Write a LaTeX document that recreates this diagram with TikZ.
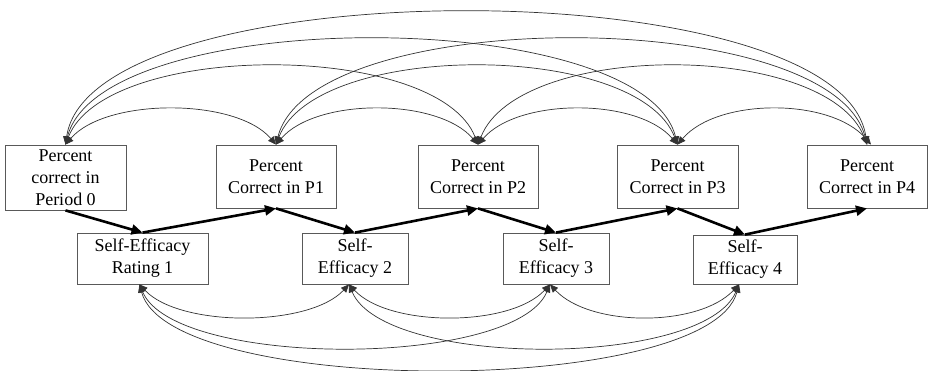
\documentclass[tikz,border=0pt]{standalone}
\usepackage{fontspec}
\setmainfont{Liberation Serif}
\usetikzlibrary{arrows.meta}
\begin{document}
\begin{tikzpicture}[x=1pt,y=-1pt,
 box/.style={draw=black!65, line width=0.8pt, align=center, inner sep=0pt, font=\fontsize{18}{22}\selectfont},
 pbox/.style={box, minimum width=120pt, minimum height=63pt},
 sbox/.style={box, minimum width=106pt, minimum height=51pt},
 effect/.style={line width=2.6pt, -{Triangle[length=11pt,width=10pt]}},
 cov/.style={draw=black!80, line width=0.7pt, {Triangle[length=8pt,width=7pt]}-{Triangle[length=8pt,width=7pt]}}]
\useasboundingbox (0,0) rectangle (928,371);
% top row
\node[box, minimum width=121pt, minimum height=65pt] (p0) at (65.5,177.5) {Percent\\correct in\\Period 0};
\node[pbox] (p1) at (276,176.5) {Percent\\Correct in P1};
\node[pbox] (p2) at (478,176.5) {Percent\\Correct in P2};
\node[pbox, minimum width=121pt] (p3) at (677.5,176.5) {Percent\\Correct in P3};
\node[pbox] (p4) at (867,176.5) {Percent\\Correct in P4};
% bottom row
\node[sbox, minimum width=131pt] (s1) at (142.5,258.5) {Self-Efficacy\\Rating 1};
\node[sbox] (s2) at (355,258.5) {Self-\\Efficacy 2};
\node[sbox] (s3) at (556,258.5) {Self-\\Efficacy 3};
\node[sbox, minimum width=104pt, minimum height=49pt] (s4) at (745,259.5) {Self-\\Efficacy 4};
% thick paths
\draw[effect] (p0.south) -- (s1.north);
\draw[effect] (s1.north) -- (p1.south);
\draw[effect] (p1.south) -- (s2.north);
\draw[effect] (s2.north) -- (p2.south);
\draw[effect] (p2.south) -- (s3.north);
\draw[effect] (s3.north) -- (p3.south);
\draw[effect] (p3.south) -- (s4.north);
\draw[effect] (s4.north) -- (p4.south);
% top covariances
\draw[cov] (p0.north) .. controls +(40,-47) and +(-40,-47) .. (p1.north);
\draw[cov] (p1.north) .. controls +(40,-47) and +(-40,-47) .. (p2.north);
\draw[cov] (p2.north) .. controls +(40,-47) and +(-40,-47) .. (p3.north);
\draw[cov] (p3.north) .. controls +(40,-47) and +(-40,-47) .. ([xshift=4pt]p4.north);
\draw[cov] (p0.north) .. controls +(40,-104) and +(-40,-104) .. (p2.north);
\draw[cov] (p1.north) .. controls +(40,-104) and +(-40,-104) .. (p3.north);
\draw[cov] (p2.north) .. controls +(40,-104) and +(-40,-104) .. (p4.north);
\draw[cov] (p0.north) .. controls +(35,-140) and +(-35,-140) .. (p3.north);
\draw[cov] (p1.north) .. controls +(35,-140) and +(-35,-140) .. (p4.north);
\draw[cov] (p0.north) .. controls +(25,-176) and +(-25,-176) .. (p4.north);
% bottom covariances
\draw[cov] ([xshift=-3pt]s1.south) .. controls +(40,43) and +(-40,43) .. ([xshift=-6pt]s2.south);
\draw[cov] ([xshift=-6pt]s2.south) .. controls +(40,43) and +(-40,43) .. ([xshift=-6pt]s3.south);
\draw[cov] ([xshift=-6pt]s3.south) .. controls +(40,43) and +(-40,43) .. ([xshift=-6pt]s4.south);
\draw[cov] ([xshift=-3pt]s1.south) .. controls +(35,84) and +(-35,84) .. ([xshift=-6pt]s3.south);
\draw[cov] ([xshift=-6pt]s2.south) .. controls +(35,84) and +(-35,84) .. ([xshift=-6pt]s4.south);
\draw[cov] ([xshift=-3pt]s1.south) .. controls +(30,113) and +(-30,113) .. ([xshift=-6pt]s4.south);
\end{tikzpicture}
\end{document}
